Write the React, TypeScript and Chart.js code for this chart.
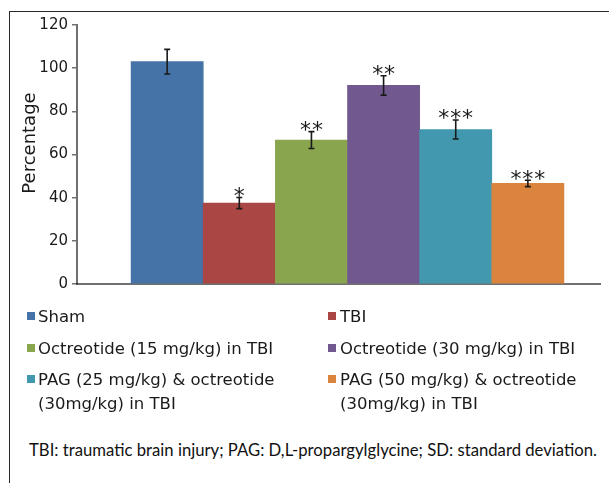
import React, { useEffect, useRef } from "react";
import { Chart, registerables } from "chart.js";

Chart.register(...registerables);

// ---- data ----
const groups = [
  "Sham",
  "TBI",
  "Octreotide (15 mg/kg) in TBI",
  "Octreotide (30 mg/kg) in TBI",
  "PAG (25 mg/kg) & octreotide\n(30mg/kg) in TBI",
  "PAG (50 mg/kg) & octreotide\n(30mg/kg) in TBI",
];
const groupPositions = [1, 2, 3, 4, 5, 6];
const means = [103, 37.5, 66.7, 92, 71.6, 46.6];
const sds = [5.7, 2.6, 3.9, 4.5, 4.4, 1.5];
const marks = ["", "*", "**", "**", "***", "***"];
const colors = ["#4572A7", "#AA4643", "#89A54E", "#71588F", "#4198AF", "#DB843D"];
const yMin = 0;
const yMax = 120;
const yStep = 20;
const yTitle = "Percentage";
const footnote =
  "TBI: traumatic brain injury; PAG: D,L-propargylglycine; SD: standard deviation.";

const AXIS = "rgba(0,0,0,0.56)";
const INK = "#1a1a1a";

const errorPlugin = {
  id: "errbars",
  afterDatasetsDraw(chart: any) {
    const ctx = chart.ctx;
    const meta = chart.getDatasetMeta(0);
    const y = chart.scales.y;
    ctx.save();
    ctx.strokeStyle = INK;
    ctx.lineWidth = 1.6;
    meta.data.forEach((bar: any, i: number) => {
      const x = bar.x;
      const top = y.getPixelForValue(means[i] + sds[i]);
      const bot = y.getPixelForValue(means[i] - sds[i]);
      ctx.beginPath();
      ctx.moveTo(x, top);
      ctx.lineTo(x, bot);
      ctx.moveTo(x - 3, top);
      ctx.lineTo(x + 3, top);
      ctx.moveTo(x - 3, bot);
      ctx.lineTo(x + 3, bot);
      ctx.stroke();
      if (marks[i]) {
        const sp = 0.9;
        ctx.font = "22px 'DejaVu Sans'";
        try {
          (ctx as any).letterSpacing = sp + "px";
        } catch (e) {}
        ctx.textAlign = "center";
        ctx.textBaseline = "alphabetic";
        ctx.fillStyle = INK;
        ctx.fillText(marks[i], x + sp / 2, top + 5.5);
      }
    });
    ctx.restore();
  },
};

export default function App() {
  const ref = useRef<HTMLCanvasElement>(null);

  useEffect(() => {
    const chart = new Chart(ref.current as HTMLCanvasElement, {
      type: "bar",
      data: {
        datasets: [
          {
            label: "Percentage",
            data: groupPositions.map((p, i) => ({ x: p, y: means[i] })),
            backgroundColor: colors,
            borderWidth: 0,
            barPercentage: 1,
            categoryPercentage: 1,
          },
        ],
      },
      options: {
        animation: false,
        responsive: false,
        events: [],
        layout: { padding: { top: 25, right: 9, bottom: 16, left: 0 } },
        plugins: { legend: { display: false }, tooltip: { enabled: false } },
        scales: {
          x: {
            type: "linear",
            min: -0.25,
            max: 7,
            offset: false,
            z: 1,
            ticks: { display: false },
            grid: { display: false, offset: false },
            border: { display: true, color: AXIS, width: 2 },
            afterFit: (s: any) => {
              s.height = 0;
            },
          },
          y: {
            min: yMin,
            max: yMax,
            ticks: {
              stepSize: yStep,
              padding: 4,
              color: INK,
              font: { family: "'DejaVu Sans'", size: 15 },
            },
            grid: {
              drawOnChartArea: false,
              drawTicks: true,
              tickLength: 5,
              color: AXIS,
              lineWidth: 1.5,
            },
            border: { display: true, color: AXIS, width: 2 },
            afterFit: (s: any) => {
              s.width = 77;
            },
          },
        },
      },
      plugins: [errorPlugin],
    } as any);
    return () => chart.destroy();
  }, []);

  const legendFont = "'DejaVu Sans', Verdana, sans-serif";

  return (
    <div
      style={{
        position: "fixed",
        left: 0,
        top: 0,
        width: 609,
        height: 483,
        overflow: "hidden",
        background: "#fff",
      }}
    >
      <div
        style={{
          position: "absolute",
          left: 9,
          top: 11,
          width: 900,
          height: 900,
          borderLeft: "1px solid #2a2a2a",
          borderTop: "1px solid #2a2a2a",
        }}
      />
      <canvas
        ref={ref}
        width={609}
        height={300}
        style={{ position: "absolute", left: 0, top: 0, width: 609, height: 300 }}
      />
      <div
        style={{
          position: "absolute",
          left: 28.3,
          top: 143.3,
          transform: "translate(-50%, -50%) rotate(-90deg)",
          fontFamily: legendFont,
          fontSize: 18,
          color: INK,
          whiteSpace: "nowrap",
        }}
      >
        {yTitle}
      </div>
      {groups.map((g, i) => {
        const col = i % 2;
        const row = Math.floor(i / 2);
        const baselines = [323, 355, 386];
        const lineTop = baselines[row] - 17.7;
        const sqX = col === 0 ? 27 : 328;
        const txX = col === 0 ? 38 : 340;
        return (
          <div key={i}>
            <div
              style={{
                position: "absolute",
                left: sqX,
                top: 312 + (baselines[row] - 323),
                width: 8,
                height: 8,
                background: colors[i],
              }}
            />
            <div
              style={{
                position: "absolute",
                left: txX,
                top: lineTop,
                fontFamily: legendFont,
                fontSize: 16.5,
                lineHeight: "24px",
                color: INK,
                whiteSpace: "pre",
              }}
            >
              {g}
            </div>
          </div>
        );
      })}
      <div
        style={{
          position: "absolute",
          left: 29,
          top: 440,
          fontFamily: "Lato, 'Open Sans', sans-serif",
          fontSize: 16.7,
          lineHeight: "20px",
          color: "#111",
          whiteSpace: "nowrap",
        }}
      >
        {footnote}
      </div>
    </div>
  );
}
